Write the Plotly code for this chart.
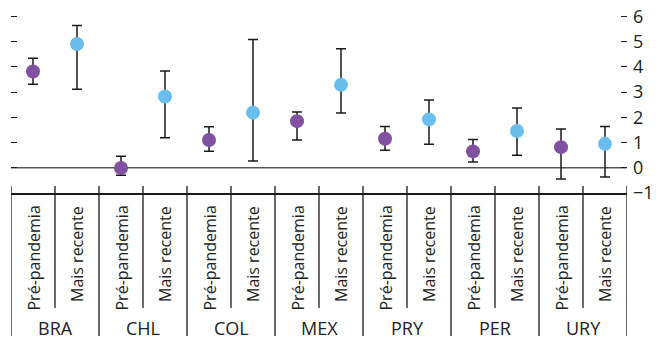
import plotly.graph_objects as go

countries = ["BRA", "CHL", "COL", "MEX", "PRY", "PER", "URY"]
periods = ["Pré-pandemia", "Mais recente"]

pre_val = [3.82, -0.01, 1.10, 1.85, 1.15, 0.65, 0.82]
pre_hi = [4.35, 0.46, 1.63, 2.21, 1.64, 1.12, 1.54]
pre_lo = [3.31, -0.30, 0.66, 1.10, 0.70, 0.23, -0.44]

rec_val = [4.91, 2.83, 2.19, 3.29, 1.92, 1.46, 0.95]
rec_hi = [5.65, 3.84, 5.09, 4.72, 2.69, 2.37, 1.64]
rec_lo = [3.12, 1.19, 0.27, 2.17, 0.93, 0.50, -0.37]

y_ticks = [-1, 0, 1, 2, 3, 4, 5, 6]
y_ticktext = ["\u22121", "0", "1", "2", "3", "4", "5", "6"]

FONT = "Open Sans"
TXT = "#222222"
PURPLE = "#8150A0"
BLUE = "#6BBDEB"

n = len(countries)
x_pre = [2 * i for i in range(n)]
x_rec = [2 * i + 1 for i in range(n)]

fig = go.Figure()


def add_series(xs, vals, his, los, color, name):
    fig.add_trace(go.Scatter(
        x=xs, y=vals, mode="markers", name=name,
        marker=dict(size=14, color=color),
        error_y=dict(
            type="data", symmetric=False,
            array=[h - v for h, v in zip(his, vals)],
            arrayminus=[v - l for v, l in zip(vals, los)],
            color="#1a1a1a", thickness=1.5, width=5,
        ),
    ))


add_series(x_pre, pre_val, pre_hi, pre_lo, PURPLE, periods[0])
add_series(x_rec, rec_val, rec_hi, rec_lo, BLUE, periods[1])

# zero line
fig.add_hline(y=0, line=dict(color="#555555", width=1.5), layer="below")

plot_h = 184.0
# separators between categories
for b in range(2 * n + 1):
    xb = b - 0.5
    bottom = -143 / plot_h if b % 2 == 0 else -115 / plot_h
    fig.add_shape(type="line", xref="x", yref="paper",
                  x0=xb, x1=xb, y0=7 / plot_h, y1=bottom,
                  line=dict(color="#1a1a1a", width=1.3))

# rotated period labels + country names
for i in range(n):
    for j, p in enumerate(periods):
        fig.add_annotation(x=2 * i + j, xref="x", y=-11 / plot_h, yref="paper",
                           text=p, textangle=-90, showarrow=False,
                           yanchor="top", xanchor="center",
                           font=dict(family=FONT, size=16, color=TXT))
    fig.add_annotation(x=2 * i + 0.5, xref="x", y=-135 / plot_h, yref="paper",
                       text=countries[i], showarrow=False,
                       yanchor="middle", xanchor="center",
                       font=dict(family=FONT, size=18, color=TXT))

# page body has an 8px margin, so the figure is sized to fit inside it
fig.update_layout(
    width=664, height=331,
    margin=dict(l=3, r=45, t=1, b=146, autoexpand=False),
    paper_bgcolor="white", plot_bgcolor="white",
    showlegend=False,
    font=dict(family=FONT, size=18, color=TXT),
    xaxis=dict(range=[-0.5, 2 * n - 0.5], showgrid=False, zeroline=False,
               showticklabels=False, ticks="", showline=True,
               linecolor="#1a1a1a", linewidth=1.5, automargin=False),
    yaxis=dict(range=[-1, 6.3], side="right", showgrid=False, zeroline=False,
               tickvals=y_ticks, ticktext=y_ticktext, ticks="inside",
               ticklen=6, tickwidth=1.3, tickcolor="#1a1a1a",
               ticklabelstandoff=5, ticklabeloverflow="allow", showline=False,
               automargin=False,
               tickfont=dict(family=FONT, size=18, color=TXT)),
    yaxis2=dict(range=[-1, 6.3], overlaying="y", side="left", showgrid=False,
                zeroline=False, tickvals=y_ticks[1:], showticklabels=False,
                ticks="inside", ticklen=6, tickwidth=1.3, tickcolor="#1a1a1a",
                showline=False, automargin=False),
)
fig.add_trace(go.Scatter(x=[None], y=[None], yaxis="y2", showlegend=False))

fig.write_html("out.html")
